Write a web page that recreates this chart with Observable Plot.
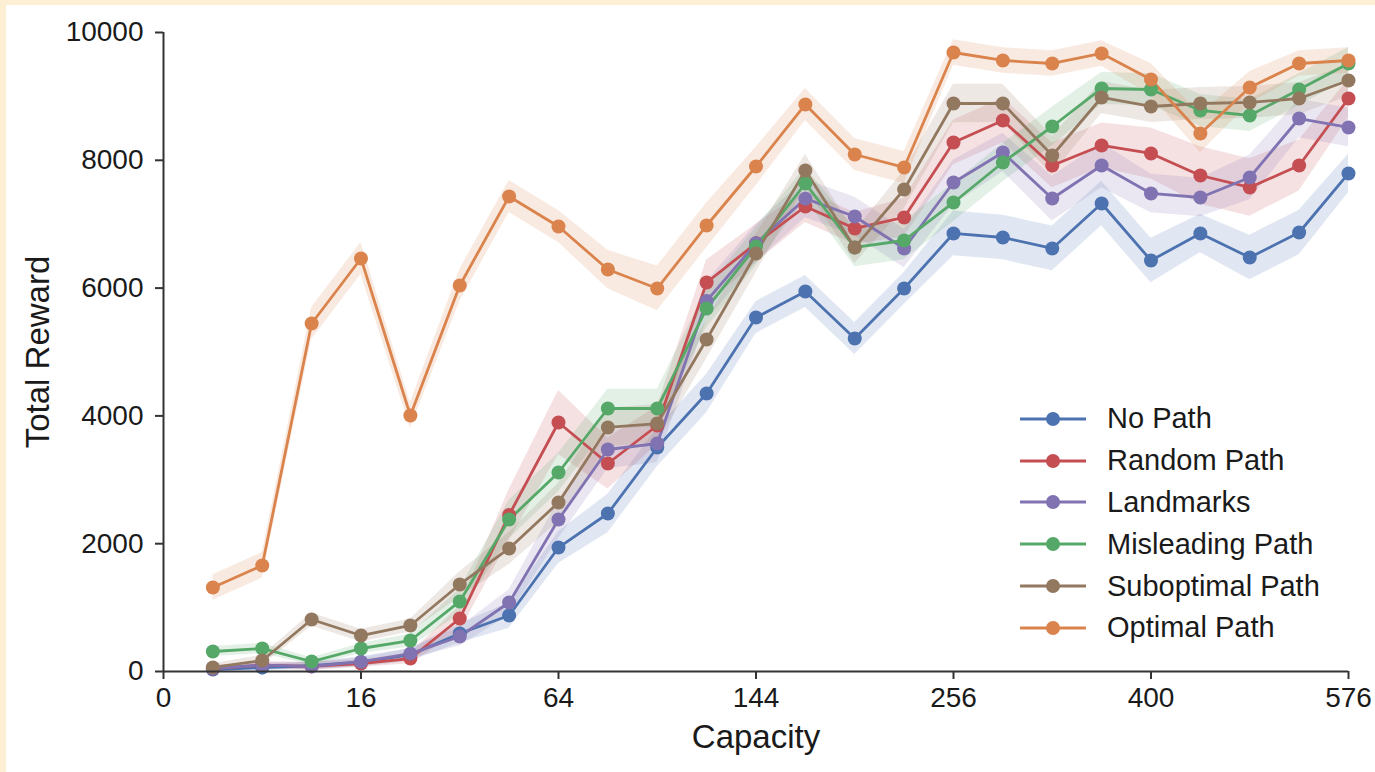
<!DOCTYPE html>
<html>
<head>
<meta charset="utf-8">
<script src="https://cdn.jsdelivr.net/npm/d3@7"></script>
<script src="https://cdn.jsdelivr.net/npm/@observablehq/plot@0.6"></script>
<style>
  html, body { margin: 0; padding: 0; background: #ffffff; }
  #wrap { position: relative; width: 1375px; height: 772px; overflow: hidden; font-family: "Liberation Sans", Arial, sans-serif; }
  #frameTop { position: absolute; left: 0; top: 0; width: 1375px; height: 5px; background: #fcefd3; }
  #frameLeft { position: absolute; left: 0; top: 0; width: 6px; height: 772px; background: #fcefd3; }
  #legend { position: absolute; left: 1020px; top: 398px; }
  .row { display: flex; align-items: center; height: 41.8px; }
  .row span { font-size: 29px; color: #1a1a1a; margin-left: 21px; }
</style>
</head>
<body>
<div id="wrap">
  <div id="chart"></div>
  <div id="legend"></div>
  <div id="frameTop"></div>
  <div id="frameLeft"></div>
</div>
<script>
// ---- Data ----
const capacity = [1, 4, 9, 16, 25, 36, 49, 64, 81, 100, 121, 144, 169, 196, 225, 256, 289, 324, 361, 400, 441, 484, 529, 576];

const seriesNames = ["No Path", "Random Path", "Landmarks", "Misleading Path", "Suboptimal Path", "Optimal Path"];
const seriesColors = ["#4C72B0", "#C44E52", "#8172B2", "#55A868", "#937860", "#DA834C"];

const noPath = [30, 60, 90, 150, 260, 595, 876, 1940, 2473, 3506, 4351, 5540, 5947, 5211, 5994, 6855, 6792, 6620, 7324, 6432, 6855, 6479, 6870, 7794];
const randomPath = [47, 100, 80, 125, 203, 829, 2450, 3897, 3255, 3850, 6088, 6700, 7277, 6933, 7105, 8279, 8623, 7919, 8232, 8107, 7762, 7575, 7919, 8967];
const landmarks = [50, 100, 80, 150, 280, 548, 1080, 2379, 3474, 3568, 5800, 6700, 7400, 7121, 6620, 7653, 8122, 7402, 7919, 7481, 7418, 7731, 8654, 8514];
const misleadingPath = [313, 360, 156, 360, 485, 1096, 2379, 3114, 4116, 4116, 5681, 6650, 7637, 6636, 6745, 7340, 7966, 8529, 9124, 9108, 8780, 8701, 9108, 9515];
const suboptimalPath = [63, 172, 814, 563, 720, 1362, 1925, 2645, 3819, 3880, 5196, 6542, 7841, 6636, 7543, 8889, 8889, 8075, 8983, 8842, 8889, 8905, 8967, 9249];
const optimalPath = [1315, 1659, 5446, 6463, 4006, 6041, 7434, 6964, 6291, 5994, 6980, 7903, 8874, 8091, 7888, 9687, 9562, 9515, 9672, 9265, 8420, 9140, 9515, 9562];

// half-width of the shaded band
const noPathBand = [40, 50, 60, 80, 100, 150, 200, 250, 300, 300, 300, 250, 250, 250, 250, 350, 350, 350, 350, 350, 300, 350, 350, 300];
const randomPathBand = [40, 50, 60, 60, 80, 200, 400, 500, 400, 300, 350, 300, 250, 250, 300, 350, 350, 350, 350, 400, 450, 450, 400, 300];
const landmarksBand = [40, 50, 60, 60, 80, 150, 200, 300, 300, 300, 300, 300, 300, 300, 300, 350, 300, 350, 350, 300, 300, 350, 300, 300];
const misleadingPathBand = [80, 80, 60, 80, 100, 200, 300, 300, 300, 300, 300, 300, 250, 300, 300, 300, 300, 300, 250, 250, 250, 250, 250, 250];
const suboptimalPathBand = [60, 80, 100, 100, 100, 200, 250, 300, 300, 300, 300, 300, 250, 250, 300, 300, 300, 300, 250, 250, 250, 250, 250, 250];
const optimalPathBand = [200, 200, 250, 250, 200, 250, 250, 250, 300, 350, 350, 300, 250, 250, 250, 200, 200, 200, 200, 250, 300, 250, 200, 200];

const xTicks = [0, 16, 64, 144, 256, 400, 576];
const yTicks = [0, 2000, 4000, 6000, 8000, 10000];

// ---- Build table ----
const valueArrays = [noPath, randomPath, landmarks, misleadingPath, suboptimalPath, optimalPath];
const bandArrays = [noPathBand, randomPathBand, landmarksBand, misleadingPathBand, suboptimalPathBand, optimalPathBand];
const rows = [];
seriesNames.forEach((name, i) => {
  capacity.forEach((c, j) => {
    const v = valueArrays[i][j], b = bandArrays[i][j];
    rows.push({series: name, capacity: c, reward: v, lo: Math.max(0, v - b), hi: v + b});
  });
});

const chart = Plot.plot({
  width: 1375,
  height: 772,
  marginLeft: 163,
  marginRight: 27,
  marginTop: 32,
  marginBottom: 101,
  style: {fontFamily: "'Liberation Sans', Arial, sans-serif", color: "#1a1a1a", background: "transparent"},
  x: {type: "sqrt", domain: [0, 576]},
  y: {domain: [0, 10000]},
  color: {domain: seriesNames, range: seriesColors},
  marks: [
    Plot.areaY(rows, {x: "capacity", y1: "lo", y2: "hi", fill: "series", fillOpacity: 0.17, z: "series"}),
    Plot.line(rows, {x: "capacity", y: "reward", stroke: "series", strokeWidth: 2.8, z: "series"}),
    Plot.dot(rows, {x: "capacity", y: "reward", fill: "series", r: 7}),
    Plot.ruleY([0], {stroke: "#333", strokeWidth: 2}),
    Plot.ruleX([0], {stroke: "#333", strokeWidth: 2}),
    Plot.axisX({ticks: xTicks, tickSize: 8, tickPadding: 8, fontSize: 28, label: null, stroke: "#333", strokeWidth: 2, tickFormat: d => String(d)}),
    Plot.axisY({ticks: yTicks, tickSize: 8, tickPadding: 12, fontSize: 28, label: null, stroke: "#333", strokeWidth: 2, tickFormat: d => String(d)}),
    Plot.text(["Total Reward"], {frameAnchor: "left", textAnchor: "middle", rotate: -90, dx: -125, fontSize: 33, fill: "#1a1a1a"}),
    Plot.text(["Capacity"], {frameAnchor: "bottom", textAnchor: "middle", dy: 76, fontSize: 33, fill: "#1a1a1a"})
  ]
});
document.getElementById("chart").appendChild(chart);

// ---- Legend ----
const legend = document.getElementById("legend");
seriesNames.forEach((name, i) => {
  const row = document.createElement("div");
  row.className = "row";
  row.innerHTML = `<svg width="66" height="16"><line x1="0" y1="8" x2="66" y2="8" stroke="${seriesColors[i]}" stroke-width="3"/><circle cx="33" cy="8" r="7" fill="${seriesColors[i]}"/></svg><span>${name}</span>`;
  legend.appendChild(row);
});
</script>
</body>
</html>
